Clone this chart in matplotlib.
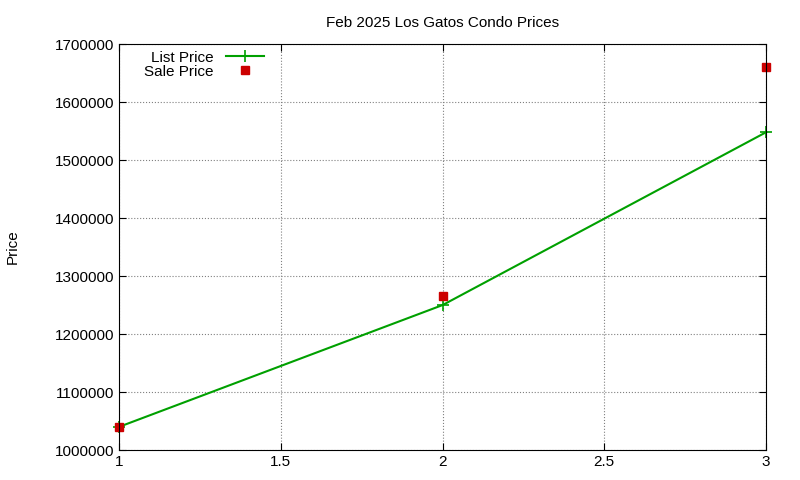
import matplotlib
matplotlib.use("Agg")
import matplotlib.pyplot as plt

x = [1, 2, 3]
list_price = [1040000, 1250000, 1548000]
sale_price = [1040000, 1265000, 1660000]
title = "Feb 2025 Los Gatos Condo Prices"

plt.rcParams['font.family'] = ['Liberation Sans', 'DejaVu Sans']
fig = plt.figure(figsize=(8, 4.8), dpi=100)
ax = fig.add_axes([0.149, 0.0625, 0.8085, 0.8455])
ax.plot(x, list_price, color='#00a000', lw=1.5, marker='+', ms=8, mew=1.2, label='List Price', clip_on=False)
ax.plot(x, sale_price, ls='none', marker='s', color='#cc0000', ms=6, label='Sale Price', clip_on=False)
ax.set_xlim(1, 3)
ax.set_ylim(1000000, 1700000)
ax.set_xticks([1, 1.5, 2, 2.5, 3])
ax.set_xticklabels(['1', '1.5', '2', '2.5', '3'])
ax.set_yticks(range(1000000, 1700001, 100000))
ax.set_yticklabels([str(v) for v in range(1000000, 1700001, 100000)])
ax.tick_params(direction='in', labelsize=11, top=True, right=True, length=5)
ax.grid(True, ls=':', color='#808080', lw=0.8)
ax.set_title(title, fontsize=11, pad=12)
ax.set_ylabel('Price', fontsize=11, labelpad=25)
leg = ax.legend(loc='upper left', bbox_to_anchor=(0.022, 1.01), frameon=False, fontsize=11,
                markerfirst=False, handlelength=2.5, borderpad=0.2, labelspacing=0.0)
for t in leg.get_texts():
    t.set_ha('right')
fig.savefig('out.png', dpi=100)
